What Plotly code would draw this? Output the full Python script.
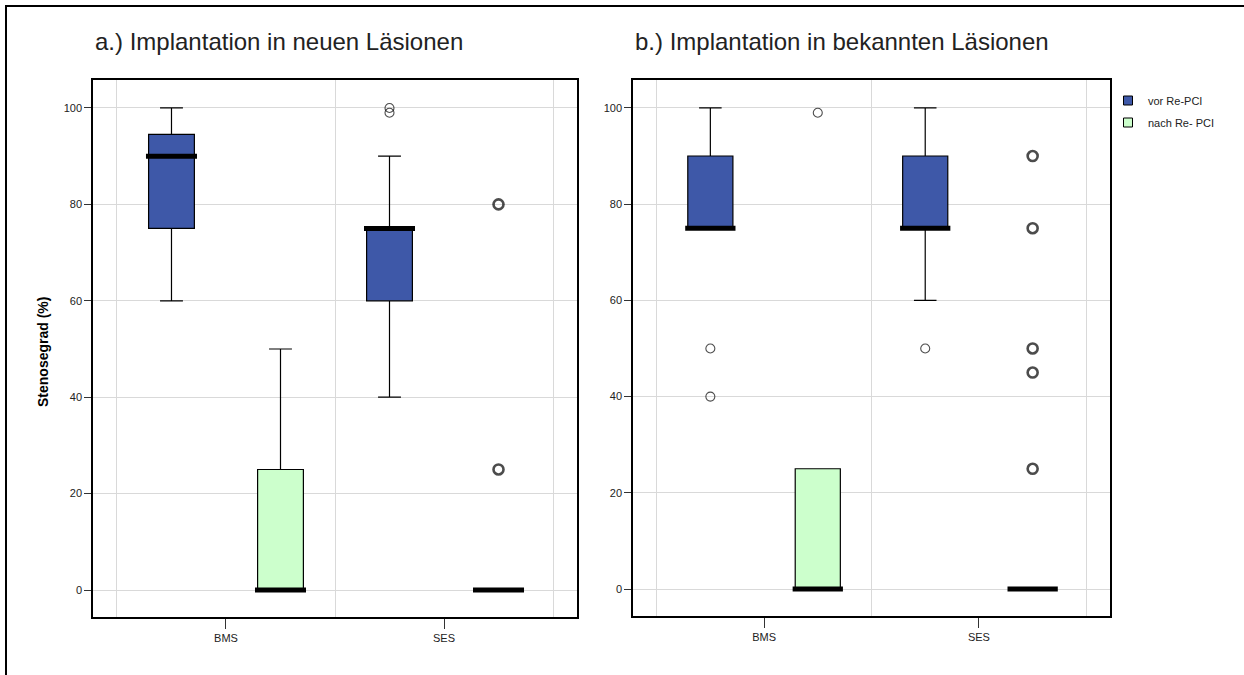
import plotly.graph_objects as go

W, H = 1244, 675

# ---------------- data ----------------
groups = ["BMS", "SES"]
series_names = ["vor Re-PCI", "nach Re- PCI"]
series_colors = ["#3E58A8", "#CCFFCC"]
y_ticks = [0, 20, 40, 60, 80, 100]
panel_titles = ["a.) Implantation in neuen Läsionen", "b.) Implantation in bekannten Läsionen"]
y_title = "Stenosegrad (%)"

# Panel a: neue Läsionen (BMS, SES)
a_vor_lower = [60, 40]
a_vor_q1 = [75, 60]
a_vor_median = [90, 75]
a_vor_q3 = [94.5, 75]
a_vor_upper = [100, 90]
a_nach_lower = [0, 0]
a_nach_q1 = [0, 0]
a_nach_median = [0, 0]
a_nach_q3 = [25, 0]
a_nach_upper = [50, 0]
a_out_group = ["SES", "SES", "SES", "SES"]
a_out_series = [0, 0, 1, 1]
a_out_value = [100, 99, 80, 25]
a_out_cases = [1, 1, 3, 3]

# Panel b: bekannte Läsionen (BMS, SES)
b_vor_lower = [75, 60]
b_vor_q1 = [75, 75]
b_vor_median = [75, 75]
b_vor_q3 = [90, 90]
b_vor_upper = [100, 100]
b_nach_lower = [0, 0]
b_nach_q1 = [0, 0]
b_nach_median = [0, 0]
b_nach_q3 = [25, 0]
b_nach_upper = [25, 0]
b_out_group = ["BMS", "BMS", "SES", "BMS", "SES", "SES", "SES", "SES", "SES"]
b_out_series = [0, 0, 0, 1, 1, 1, 1, 1, 1]
b_out_value = [50, 40, 50, 99, 90, 75, 50, 45, 25]
b_out_cases = [1, 1, 1, 1, 3, 3, 3, 2, 3]

# ---------------- styling / geometry ----------------
FONT = "Liberation Sans, Arial, sans-serif"
OFFSETS = [-0.25, 0.25]
BOX_W = 0.21


def fx(px):
    return px / W


def fy(py):
    return 1 - py / H


panels = [
    dict(xa="x", ya="y", stats=[
        (a_vor_lower, a_vor_q1, a_vor_median, a_vor_q3, a_vor_upper),
        (a_nach_lower, a_nach_q1, a_nach_median, a_nach_q3, a_nach_upper)],
        out=(a_out_group, a_out_series, a_out_value, a_out_cases),
        dom_x=[fx(93), fx(577)], dom_y=[fy(617), fy(80)]),
    dict(xa="x2", ya="y2", stats=[
        (b_vor_lower, b_vor_q1, b_vor_median, b_vor_q3, b_vor_upper),
        (b_nach_lower, b_nach_q1, b_nach_median, b_nach_q3, b_nach_upper)],
        out=(b_out_group, b_out_series, b_out_value, b_out_cases),
        dom_x=[fx(633), fx(1110)], dom_y=[fy(616), fy(80)]),
]

fig = go.Figure()

for p in panels:
    for s, (lo, q1, med, q3, hi) in enumerate(p["stats"]):
        pos = [g + OFFSETS[s] for g in range(len(groups))]
        fig.add_trace(go.Box(
            x=pos, q1=q1, median=med, q3=q3, lowerfence=lo, upperfence=hi,
            width=BOX_W, whiskerwidth=0.5,
            fillcolor=series_colors[s],
            line=dict(color="black", width=1.2),
            boxpoints=False, showlegend=False, hoverinfo="skip",
            xaxis=p["xa"], yaxis=p["ya"],
        ))
        # thick median bars
        mx, my = [], []
        for gi, m in enumerate(med):
            mx += [pos[gi] - BOX_W / 2 - 0.012, pos[gi] + BOX_W / 2 + 0.012, None]
            my += [m, m, None]
        fig.add_trace(go.Scatter(
            x=mx, y=my, mode="lines", line=dict(color="black", width=5),
            showlegend=False, hoverinfo="skip", xaxis=p["xa"], yaxis=p["ya"],
        ))
    og, osr, ov, oc = p["out"]
    ox = [groups.index(g) + OFFSETS[s] for g, s in zip(og, osr)]
    fig.add_trace(go.Scatter(
        x=ox, y=ov, mode="markers",
        marker=dict(symbol="circle-open", size=[10 if c > 1 else 9 for c in oc],
                    color="black",
                    line=dict(color="black", width=[2.6 if c > 1 else 1.1 for c in oc])),
        showlegend=False, hoverinfo="skip", xaxis=p["xa"], yaxis=p["ya"],
    ))

# legend entries
for s, name in enumerate(series_names):
    fig.add_trace(go.Scatter(
        x=[None], y=[None], mode="markers", name=name, legendgroup=name,
        marker=dict(symbol="square", size=9, color=series_colors[s],
                    line=dict(color="black", width=1)),
    ))

axis_common_x = dict(
    range=[-0.61, 1.61], tickvals=list(range(len(groups))), ticktext=groups,
    ticks="outside", ticklen=10, tickcolor="#333", tickwidth=1,
    showgrid=False, zeroline=False,
    showline=True, mirror=True, linecolor="black", linewidth=1.5,
    tickfont=dict(family=FONT, size=11, color="#222"),
    minor=dict(tickvals=[-0.5, 0.5, 1.5], showgrid=True, gridcolor="#d9d9d9",
               gridwidth=1, ticks=""),
)
axis_common_y = dict(
    range=[-5.6, 105.8], tickvals=y_ticks,
    ticks="outside", ticklen=7, tickcolor="#333", tickwidth=1,
    showgrid=True, gridcolor="#d9d9d9", gridwidth=1, zeroline=False,
    showline=True, mirror=True, linecolor="black", linewidth=1.5,
    tickfont=dict(family=FONT, size=11, color="#222"),
)

fig.update_layout(
    width=W, height=H,
    margin=dict(l=0, r=0, t=0, b=0),
    paper_bgcolor="white", plot_bgcolor="white",
    boxmode="overlay",
    xaxis=dict(domain=panels[0]["dom_x"], anchor="y", **axis_common_x),
    yaxis=dict(domain=panels[0]["dom_y"], anchor="x", **axis_common_y),
    xaxis2=dict(domain=panels[1]["dom_x"], anchor="y2", **axis_common_x),
    yaxis2=dict(domain=panels[1]["dom_y"], anchor="x2", **axis_common_y),
    legend=dict(x=fx(1108), y=fy(86), xanchor="left", yanchor="top",
                font=dict(family=FONT, size=11, color="#222"),
                bgcolor="rgba(0,0,0,0)", tracegroupgap=3, itemclick=False),
    showlegend=True,
    annotations=[
        dict(text=panel_titles[0], x=fx(93), y=fy(42), xref="paper", yref="paper",
             xanchor="left", yanchor="middle", showarrow=False,
             font=dict(family=FONT, size=24, color="#222")),
        dict(text=panel_titles[1], x=fx(633), y=fy(42), xref="paper", yref="paper",
             xanchor="left", yanchor="middle", showarrow=False,
             font=dict(family=FONT, size=24, color="#222")),
        dict(text="<b>" + y_title + "</b>", x=fx(43), y=fy(352), xref="paper", yref="paper",
             xanchor="center", yanchor="middle", showarrow=False, textangle=-90,
             font=dict(family=FONT, size=14, color="black")),
    ],
    shapes=[
        dict(type="line", xref="paper", yref="paper", x0=fx(5), x1=1.0, y0=fy(6), y1=fy(6),
             line=dict(color="black", width=2)),
        dict(type="line", xref="paper", yref="paper", x0=fx(6), x1=fx(6), y0=0.0, y1=fy(5),
             line=dict(color="black", width=2)),
    ],
)

fig.write_html(
    "out.html",
    config={"displayModeBar": False},
    post_script="document.body.style.margin='0px';document.body.style.overflow='hidden';",
)
